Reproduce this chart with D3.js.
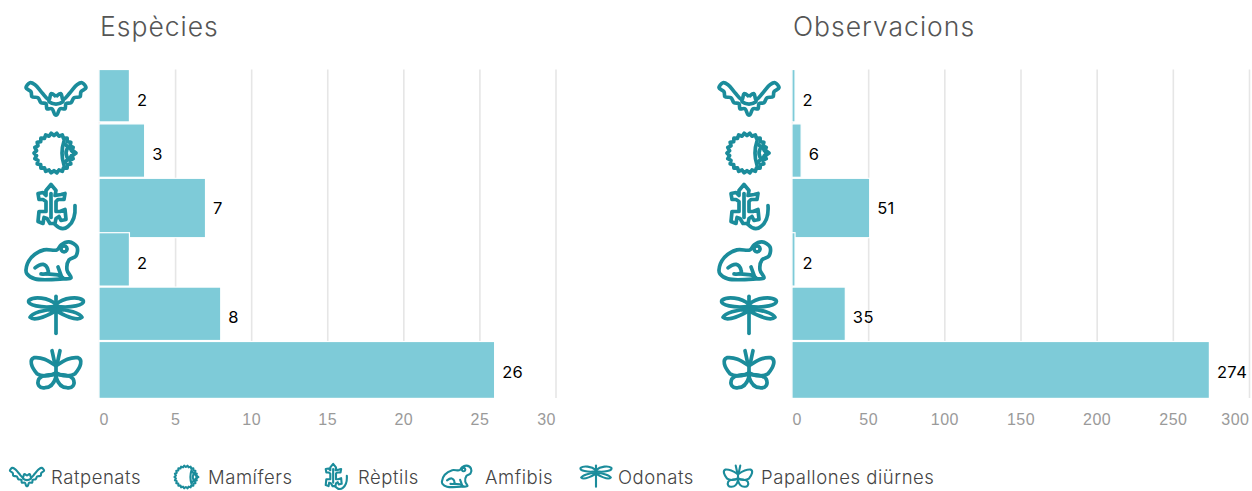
<!DOCTYPE html>
<html>
<head>
<meta charset="utf-8">
<script src="https://cdn.jsdelivr.net/npm/d3@7"></script>
<style>
  html, body { margin: 0; padding: 0; background: #fff; }
  svg { display: block; font-family: Inter, "Open Sans", sans-serif; }
  .grid line { stroke: #e6e6e6; stroke-width: 1.6; }
  .grid text { fill: #9a9a9a; font-size: 16px; font-weight: 300; letter-spacing: 0.5px; }
  .icon * { fill: none; stroke: #1b8c9b; stroke-width: 3.7; stroke-linejoin: round; stroke-linecap: round; }
</style>
</head>
<body>
<script>
// data
const categories = ["Ratpenats", "Mamífers", "Rèptils", "Amfibis", "Odonats", "Papallones diürnes"];
const especies = [2, 3, 7, 2, 8, 26];
const observacions = [2, 6, 51, 2, 35, 274];
const ticksEspecies = [0, 5, 10, 15, 20, 25, 30];
const ticksObservacions = [0, 50, 100, 150, 200, 250, 300];
const iconNames = ["bat", "hedgehog", "lizard", "frog", "dragonfly", "butterfly"];

const width = 1252, height = 491;
const plotTop = 69.5, plotBottom = 398;
const barColor = "#7ecbd8";

// some bars in the original are a few px taller than their band
const extraHeight = [-2, -1, 5, -1, -1, 2.5];
// legend layout, the items are not evenly spaced
const legendIconX = [27, 187, 336, 459, 596, 738];
const legendTextX = [51, 208, 358, 485, 618, 761];

const svg = d3.select("body").append("svg")
    .attr("width", width)
    .attr("height", height);

const y = d3.scaleBand().domain(categories).range([plotTop, plotTop + 54.4 * 6]);

// ****************** icons ***************************
const smooth = d3.line().curve(d3.curveCatmullRomClosed.alpha(0.5));
const sharp = d3.line().curve(d3.curveLinearClosed);
const soft = d3.line().curve(d3.curveCatmullRom.alpha(0.5));

function mirror(pts) {
  return pts.concat(pts.slice().reverse().map(p => [-p[0], p[1]]));
}

function spikes() {
  let pts = [];
  for(let i = 0; i < 44; i++) {
    let a = i / 44 * 2 * Math.PI, r = i % 2 ? 17.6 : 20;
    pts.push([-2 + r * Math.cos(a), r * Math.sin(a)]);
  }
  return sharp(pts);
}

const icons = {
  bat: [
    soft(mirror([[-1,-3],[-5,-5],[-7,1],[-14,-6],[-21,-14],[-26,-16],[-30,-11],[-25,-7],[-24,-2],[-18,-1],[-15,4],[-10,5],[-9,10],[-4,10],[-1,16]])),
    "M-7,3Q0,8 7,3"
  ],
  hedgehog: [
    spikes(),
    "M8,-12Q4,0 8,12",
    "M9,-9L12,-6L20,0L12,6L9,9",
    "M11,-4Q9,0 11,4"
  ],
  lizard: [
    sharp([[-5,-23],[0,-17],[-1,-12],[5,-13],[9,-14],[8,-8],[2,-8],[0,-6],[0,4],[4,4],[9,2],[10,12],[5,13],[3,9],[0,11],[-1,16],[-6,16],[-9,11],[-12,10],[-13,16],[-18,14],[-17,4],[-13,4],[-10,4],[-10,-6],[-13,-8],[-17,-8],[-18,-14],[-13,-15],[-10,-12],[-10,-17]]),
    "M-5,-14L-5,10",
    "M-1,17Q6,24 12,19Q20,13 19,-2"
  ],
  frog: [
    smooth([[-30,8],[-25,-4],[-12,-12],[1,-12],[5,-17],[13,-20],[21,-15],[20,-6],[13,-2],[11,8],[15,16],[7,17],[-21,17],[-29,12]]),
    "M-21,6Q-11,-2 -8,8Q-6,13 -15,12",
    "M-9,12L2,13L7,16",
    "M2,5L6,16",
    "M8,-16a3,3 0 1 0 0.1,0"
  ],
  dragonfly: [
    "M0,-20L0,17",
    "M0,-12C8,-19 22,-20 27,-16C30,-11 14,-8 0,-10",
    "M0,-12C-8,-19 -22,-20 -27,-16C-30,-11 -14,-8 0,-10",
    "M1,-7C12,-7 24,-3 26,1C22,5 10,0 1,-5",
    "M-1,-7C-12,-7 -24,-3 -26,1C-22,5 -10,0 -1,-5"
  ],
  butterfly: [
    "M-4,-20L-1,-6","M4,-20L1,-6",
    "M0,-5C-8,-10 -14,-14 -22,-13C-27,-11 -25,-4 -19,3C-15,6 -6,6 0,2",
    "M0,-5C8,-10 14,-14 22,-13C27,-11 25,-4 19,3C15,6 6,6 0,2",
    "M-2,4C-8,4 -13,4 -17,8C-20,14 -16,18 -11,17C-6,17 -2,13 0,6",
    "M2,4C8,4 13,4 17,8C20,14 16,18 11,17C6,17 2,13 0,6",
    "M0,-6L0,8"
  ]
};

function drawIcon(parent, name, cx, cy, k) {
  let g = parent.append("g")
      .attr("class", "icon")
      .attr("transform", "translate(" + cx + "," + cy + ") scale(" + k + ")");
  icons[name].forEach(d => g.append("path").attr("d", d));
}

// ****************** panels ***************************
function drawPanel(title, values, ticks, x0, x1) {
  let x = d3.scaleLinear().domain([ticks[0], ticks[ticks.length - 1]]).range([x0, x1]);
  let g = svg.append("g");

  g.append("text")
      .attr("x", x0 + 1)
      .attr("y", 36)
      .attr("fill", "#555")
      .attr("font-size", 26.5)
      .attr("font-weight", 300)
      .attr("letter-spacing", 1)
      .text(title);

  // grid + tick labels
  let axis = g.append("g")
      .attr("class", "grid")
      .attr("transform", "translate(0," + plotBottom + ")")
      .call(d3.axisBottom(x).tickValues(ticks).tickSize(-(plotBottom - plotTop)).tickPadding(16));
  axis.select(".domain").remove();
  axis.selectAll("text")
      .attr("text-anchor", (d, i) => i == 0 ? "start" : i == ticks.length - 1 ? "end" : "middle");

  g.selectAll("rect.bar")
      .data(values)
    .enter().append("rect")
      .attr("class", "bar")
      .attr("x", x0)
      .attr("y", (d, i) => y(categories[i]))
      .attr("width", d => x(d) - x0)
      .attr("height", (d, i) => y.bandwidth() + extraHeight[i])
      .attr("fill", barColor)
      .attr("stroke", "#fff")
      .attr("stroke-width", 1.2);

  g.selectAll("text.value")
      .data(values)
    .enter().append("text")
      .attr("class", "value")
      .attr("x", d => x(d) + 7.5)
      .attr("y", (d, i) => y(categories[i]) + 36)
      .attr("fill", "#000")
      .attr("font-size", 16.5)
      .attr("font-weight", 400)
      .attr("letter-spacing", 0.4)
      .text(d => d);

  iconNames.forEach((name, i) => {
    drawIcon(g, name, x0 - 43, y(categories[i]) + y.bandwidth() / 2 + 2, 1);
  });
}

drawPanel("Espècies", especies, ticksEspecies, 99, 555.5);
drawPanel("Observacions", observacions, ticksObservacions, 792, 1249);

// ****************** legend ***************************
const legend = svg.append("g");
categories.forEach((c, i) => {
  drawIcon(legend, iconNames[i], legendIconX[i], 477, 0.57);
  legend.append("text")
      .attr("x", legendTextX[i])
      .attr("y", 484)
      .attr("fill", "#444")
      .attr("font-size", 18.5)
      .attr("font-weight", 300)
      .attr("letter-spacing", 0.55)
      .text(c);
});
</script>
</body>
</html>
